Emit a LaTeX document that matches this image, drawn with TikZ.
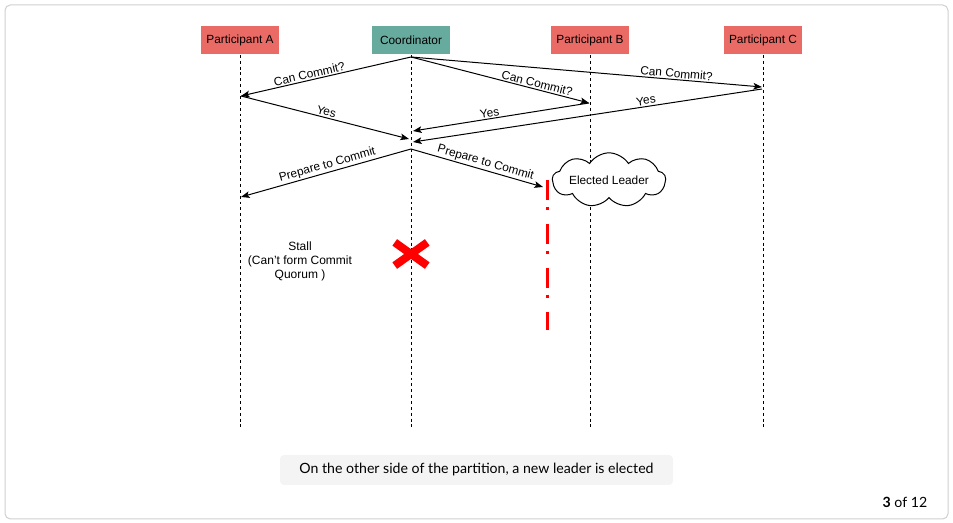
\documentclass[tikz,border=0pt]{standalone}
\usepackage{fontspec}
\setmainfont{Liberation Sans}
\newfontfamily\capfont{Lato}
\usetikzlibrary{arrows.meta,shapes.symbols}
\definecolor{partred}{HTML}{EA6B66}
\definecolor{coordgreen}{HTML}{67AB9F}
\definecolor{capgray}{HTML}{F4F4F4}
\definecolor{framegray}{HTML}{D0D0D0}

\begin{document}
\begin{tikzpicture}[x=0.75pt,y=-0.75pt,
  actor/.style={draw=white, line width=0.6pt, minimum width=59.25pt, minimum height=21.75pt, inner sep=0pt, font=\fontsize{8.9}{10}\selectfont},
  lifeline/.style={black, dash pattern=on 2.2pt off 2.2pt, line width=0.6pt},
  msg/.style={black, line width=0.75pt, -{Stealth[length=6.5pt, width=5pt, inset=1.5pt]}},
  lbl/.style={font=\fontsize{8.9}{10}\selectfont, sloped, above, inner sep=1pt}]
\useasboundingbox (0,0) rectangle (953,523);
\draw[framegray, line width=0.75pt, rounded corners=4pt] (5,5) rectangle (948,519);

\node[actor, fill=partred] (pa) at (240,40) {Participant A};
\node[actor, fill=coordgreen] (co) at (411,40) {Coordinator};
\node[actor, fill=partred] (pb) at (590,40) {Participant B};
\node[actor, fill=partred] (pc) at (763,40) {Participant C};

\coordinate (pa-end) at (240,430);
\coordinate (co-end) at (411,430);
\coordinate (pb-end) at (590,430);
\coordinate (pc-end) at (763,430);
\draw[lifeline] (pa.south) -- (pa-end);
\draw[lifeline] (co.south) -- (co-end);
\draw[lifeline] (pb.south) -- (pb-end);
\draw[lifeline] (pc.south) -- (pc-end);

\coordinate (co-ask) at (411,57);
\coordinate (pa-ask) at (241,96);
\coordinate (pb-ask) at (589,103);
\coordinate (pc-ask) at (762,87);
\coordinate (pc-yes) at (762,89);
\coordinate (co-yesa) at (409,139);
\coordinate (co-yesb) at (413,131);
\coordinate (co-yesc) at (413,142);
\coordinate (co-prep) at (411,149);
\coordinate (pa-prep) at (241,197);
\coordinate (pb-prep) at (543,187);

\draw[msg] (co-ask) -- node[lbl, pos=0.59] {Can Commit?} (pa-ask);
\draw[msg] (co-ask) -- node[lbl, pos=0.70] {Can Commit?} (pb-ask);
\draw[msg] (co-ask) -- node[lbl, pos=0.755] {Can Commit?} (pc-ask);
\draw[msg] (pa-ask) -- node[lbl, pos=0.5] {Yes} (co-yesa);
\draw[msg] (pb-ask) -- node[lbl, pos=0.56] {Yes} (co-yesb);
\draw[msg] (pc-yes) -- node[lbl, pos=0.33] {Yes} (co-yesc);
\draw[msg] (co-prep) -- node[lbl, pos=0.48] {Prepare to Commit} (pa-prep);
\draw[msg] (co-prep) -- node[lbl, pos=0.55] {Prepare to Commit} (pb-prep);

\node[cloud, draw, fill=white, line width=0.75pt, cloud puffs=9, cloud puff arc=115, aspect=3.2, minimum width=85pt, minimum height=28pt, inner sep=0pt, font=\fontsize{8.9}{10}\selectfont] (leader) at (609,180) {Elected Leader};

\coordinate (cut-top) at (547,180);
\coordinate (cut-bot) at (547,330);
\draw[red, line width=2.25pt, dash pattern=on 15pt off 5pt on 2.5pt off 10.5pt] (cut-top) -- (cut-bot);

\node[minimum width=24pt, minimum height=17pt, inner sep=0pt] (crash) at (411,254) {};
\draw[red, line width=6pt] (crash.north west) -- (crash.south east);
\draw[red, line width=6pt] (crash.north east) -- (crash.south west);

\node[align=center, font=\fontsize{9}{10.5}\selectfont] (stall) at (300,261) {Stall\\(Can't form Commit\\Quorum )};

\node[fill=capgray, rounded corners=3pt, minimum width=294.75pt, minimum height=22.5pt, font=\capfont\fontsize{10.6}{12}\selectfont] (caption) at (476.5,470) {On the other side of the partition, a new leader is elected};
\node[anchor=east, font=\capfont\fontsize{10.6}{12}\selectfont] (page) at (932,502) {\textbf{3} of 12};
\end{tikzpicture}
\end{document}
